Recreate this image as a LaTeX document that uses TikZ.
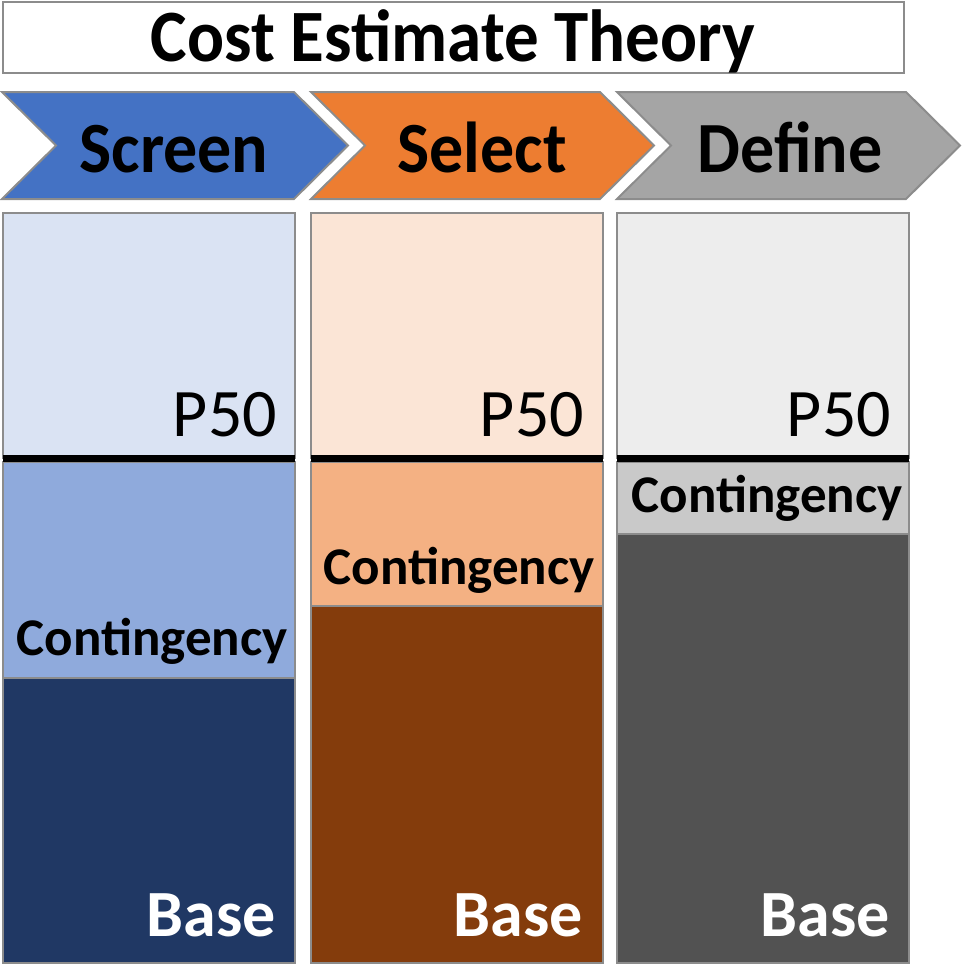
\documentclass[tikz,border=0pt]{standalone}
\usepackage{fontspec}
\setmainfont{Carlito}
\definecolor{edgegray}{HTML}{8C8C8C}
\definecolor{screenblue}{HTML}{4472C4}
\definecolor{selectorange}{HTML}{ED7D31}
\definecolor{definegray}{HTML}{A5A5A5}
\definecolor{screentop}{HTML}{DAE3F3}
\definecolor{selecttop}{HTML}{FBE5D6}
\definecolor{definetop}{HTML}{EDEDED}
\definecolor{screencont}{HTML}{8FAADC}
\definecolor{selectcont}{HTML}{F4B183}
\definecolor{definecont}{HTML}{C9C9C9}
\definecolor{screenbase}{HTML}{203864}
\definecolor{selectbase}{HTML}{843C0C}
\definecolor{definebase}{HTML}{525252}
\begin{document}
\begin{tikzpicture}[x=1pt,y=-1pt,inner sep=0pt,outer sep=0pt,
panel/.style={draw=edgegray,line width=2pt},
pline/.style={line width=7pt,black},
stagetext/.style={anchor=base,font=\fontsize{68}{68}\selectfont\bfseries,yscale=1.06},
ptext/.style={anchor=base east,font=\fontsize{68}{68}\selectfont},
conttext/.style={anchor=base,font=\fontsize{53}{53}\selectfont\bfseries},
basetext/.style={anchor=base east,text=white,font=\fontsize{66}{66}\selectfont\bfseries}]

\useasboundingbox (0,0) rectangle (961,966);

% title
\draw[panel,fill=white] (3,2) rectangle (904,73);
\node[anchor=base,font=\fontsize{69}{69}\selectfont\bfseries,yscale=1.07] (title) at (453,62) {Cost Estimate Theory};

% stages
\draw[panel,fill=screenblue] (2,92) -- (294,92) -- (348,145.5) -- (294,199) -- (2,199) -- (56,145.5) -- cycle;
\draw[panel,fill=selectorange] (311,92) -- (600,92) -- (654,145.5) -- (600,199) -- (311,199) -- (365,145.5) -- cycle;
\draw[panel,fill=definegray] (617,92) -- (906,92) -- (960,145.5) -- (906,199) -- (617,199) -- (671,145.5) -- cycle;
\node[stagetext] (screen) at (174,172) {Screen};
\node[stagetext] (select) at (482,172) {Select};
\node[stagetext] (define) at (790,172) {Define};

% screen column
\draw[panel,fill=screentop] (3,213) rectangle (295,458);
\draw[panel,fill=screencont] (3,462) rectangle (295,678);
\draw[panel,fill=screenbase] (3,678) rectangle (295,963);
\draw[pline] (3,458) -- (295,458);
\node[ptext] (screenp) at (277,436) {P50};
\node[conttext] (screenc) at (152,655) {Contingency};
\node[basetext] (screenb) at (276,936) {Base};

% select column
\draw[panel,fill=selecttop] (311,213) rectangle (603,458);
\draw[panel,fill=selectcont] (311,462) rectangle (603,606);
\draw[panel,fill=selectbase] (311,606) rectangle (603,963);
\draw[pline] (311,458) -- (603,458);
\node[ptext] (selectp) at (584,436) {P50};
\node[conttext] (selectc) at (459,584) {Contingency};
\node[basetext] (selectb) at (583,936) {Base};

% define column
\draw[panel,fill=definetop] (617,213) rectangle (909,458);
\draw[panel,fill=definecont] (617,462) rectangle (909,534);
\draw[panel,fill=definebase] (617,534) rectangle (909,963);
\draw[pline] (617,458) -- (909,458);
\node[ptext] (definep) at (891,436) {P50};
\node[conttext] (definec) at (767,512) {Contingency};
\node[basetext] (defineb) at (890,936) {Base};
\end{tikzpicture}
\end{document}
